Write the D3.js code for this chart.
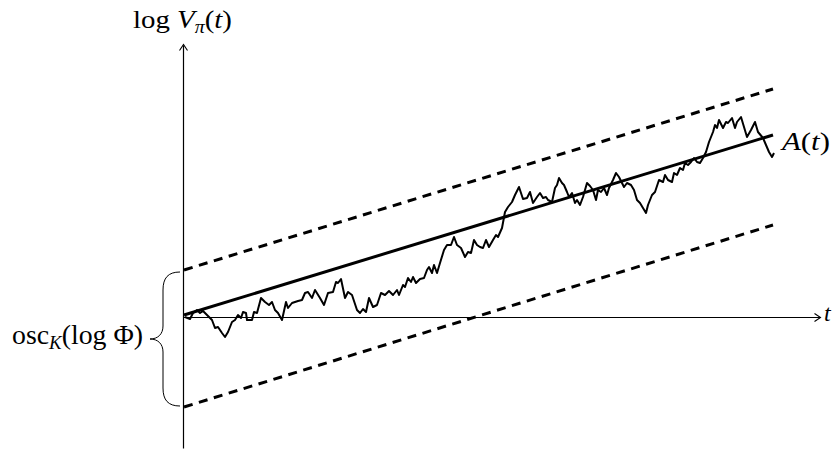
<!DOCTYPE html>
<html>
<head>
<meta charset="utf-8">
<script src="https://cdn.jsdelivr.net/npm/d3@7"></script>
<style>
  html, body { margin: 0; padding: 0; background: #fff; }
  text { font-family: "Liberation Serif", "DejaVu Serif", serif; fill: #000; }
</style>
</head>
<body>
<div id="chart"></div>
<script>
// random walk log V_pi(t)
var walkT = [0.01,0.06,0.09,0.13,0.16,0.19,0.23,0.28,0.31,0.34,0.38,0.41,0.44,0.48,0.51,0.54,0.57,0.59,0.62,0.63,
  0.68,0.70,0.73,0.77,0.81,0.85,0.88,0.91,0.94,0.98,1.02,1.04,1.08,1.11,1.14,1.18,1.21,1.24,1.28,1.31,
  1.36,1.40,1.44,1.49,1.52,1.54,1.57,1.61,1.64,1.68,1.73,1.76,1.79,1.82,1.85,1.89,1.93,1.97,2.01,2.05,
  2.09,2.13,2.15,2.19,2.21,2.24,2.27,2.29,2.32,2.36,2.40,2.43,2.45,2.48,2.50,2.53,2.56,2.60,2.63,2.67,
  2.70,2.73,2.77,2.81,2.84,2.87,2.90,2.93,2.96,2.99,3.02,3.05,3.09,3.12,3.14,3.18,3.21,3.24,3.28,3.31,
  3.35,3.39,3.43,3.46,3.49,3.53,3.56,3.59,3.62,3.64,3.68,3.71,3.73,3.75,3.78,3.80,3.83,3.85,3.88,3.91,
  3.93,3.96,3.99,4.03,4.06,4.09,4.12,4.14,4.17,4.20,4.23,4.25,4.29,4.32,4.35,4.38,4.40,4.43,4.47,4.50,
  4.53,4.56,4.59,4.62,4.64,4.68,4.71,4.75,4.79,4.81,4.84,4.88,4.90,4.93,4.96,4.99,5.01,5.04,5.07,5.10,
  5.13,5.16,5.19,5.22,5.25,5.29,5.31,5.33,5.35,5.39,5.42,5.44,5.48,5.51,5.53,5.57,5.60,5.63,5.67,5.71,
  5.74,5.79,5.82,5.85,5.88,5.90];
var walkV = [0,-0.02,0.04,0.07,0.04,0.06,0.02,-0.03,-0.11,-0.10,-0.16,-0.20,-0.15,-0.05,-0.03,0.02,-0.01,0.05,0.04,-0.03,
  -0.03,0.05,0.04,0.19,0.15,0.12,0.15,0.07,0.04,-0.03,0.15,0.09,0.14,0.15,0.16,0.17,0.24,0.25,0.19,0.27,
  0.19,0.12,0.24,0.25,0.35,0.34,0.38,0.19,0.25,0.22,0.07,0.04,0.08,0.05,0.19,0.10,0.12,0.24,0.22,0.26,
  0.22,0.27,0.22,0.32,0.30,0.39,0.35,0.40,0.34,0.38,0.39,0.47,0.50,0.44,0.52,0.44,0.54,0.67,0.72,0.72,
  0.80,0.72,0.69,0.60,0.65,0.64,0.77,0.72,0.70,0.69,0.77,0.70,0.77,0.82,0.80,0.89,1.05,1.10,1.15,1.22,
  1.30,1.18,1.19,1.25,1.14,1.20,1.24,1.19,1.20,1.17,1.15,1.29,1.32,1.39,1.34,1.32,1.25,1.20,1.24,1.14,
  1.17,1.12,1.20,1.34,1.31,1.27,1.17,1.27,1.25,1.29,1.22,1.29,1.37,1.44,1.40,1.34,1.30,1.34,1.32,1.27,
  1.17,1.14,1.09,1.04,1.12,1.22,1.25,1.37,1.35,1.42,1.37,1.35,1.44,1.42,1.49,1.47,1.54,1.52,1.55,1.59,
  1.55,1.54,1.59,1.65,1.75,1.85,1.92,1.89,1.97,1.89,1.95,1.94,1.99,1.89,1.95,2.00,1.90,1.80,1.87,1.95,
  1.85,1.79,1.72,1.65,1.60,1.64];

// trend A(t) and the band around it
var lineT = [0, 5.89];
var trendA = [0.02, 1.82];
var upperBand = [0.47, 2.28];
var lowerBand = [-0.90, 0.92];

var width = 836, height = 450;

const svg = d3.select("#chart")
  .append("svg")
    .attr("width", width)
    .attr("height", height);

const x = d3.scaleLinear().domain([-0.01, 6.36]).range([183, 820]);
const y = d3.scaleLinear().domain([-1.31, 2.72]).range([448, 45]);

// axes (no ticks)
svg.append("g")
  .attr("transform", `translate(0, ${y(0)})`)
  .call(d3.axisBottom(x).tickValues([]).tickSizeOuter(0))
  .select(".domain").attr("stroke-width", 1.2);
svg.append("g")
  .attr("transform", `translate(${x(-0.01)}, 0)`)
  .call(d3.axisLeft(y).tickValues([]).tickSizeOuter(0))
  .select(".domain").attr("stroke-width", 1.2);

// tikz style arrow tips
function arrowTip(px, py, angle) {
  svg.append("path")
    .attr("d", "M-6,-4 Q-1.5,-1 0,0 Q-1.5,1 -6,4")
    .attr("fill", "none")
    .attr("stroke", "#000")
    .attr("stroke-width", 1.1)
    .attr("transform", `translate(${px},${py}) rotate(${angle})`);
}
arrowTip(x(6.36) + 0.5, y(0) + 0.5, 0);
arrowTip(x(-0.01) + 0.5, y(2.72) - 0.5, -90);

const straight = d3.line()
  .x(function(d) { return x(d[0]); })
  .y(function(d) { return y(d[1]); });

// dashed band
[upperBand, lowerBand].forEach(function(b) {
  svg.append("path")
    .datum(d3.zip(lineT, b))
    .attr("fill", "none")
    .attr("stroke", "#000")
    .attr("stroke-width", 3)
    .attr("stroke-dasharray", "9,6.6")
    .attr("d", straight);
});

// trend line
svg.append("path")
  .datum(d3.zip(lineT, trendA))
  .attr("fill", "none")
  .attr("stroke", "#000")
  .attr("stroke-width", 3)
  .attr("d", straight);

// the walk
svg.append("path")
  .datum(d3.zip(walkT, walkV))
  .attr("fill", "none")
  .attr("stroke", "#000")
  .attr("stroke-width", 2)
  .attr("stroke-linejoin", "round")
  .attr("d", straight);

// brace on the left
var bTop = y(upperBand[0]) + 2, bBot = y(lowerBand[0]) - 1;
var bMid = (bTop + bBot) / 2;
var xe = 180, xs = 163, xt = 150;
svg.append("path")
  .attr("d", `M${xe},${bTop} C${xe-12},${bTop} ${xs},${bTop+6} ${xs},${bTop+18}` +
    ` L${xs},${bMid-13} C${xs},${bMid-5} ${xs-5},${bMid} ${xt},${bMid}` +
    ` C${xs-5},${bMid} ${xs},${bMid+5} ${xs},${bMid+13}` +
    ` L${xs},${bBot-18} C${xs},${bBot-6} ${xe-12},${bBot} ${xe},${bBot}`)
  .attr("fill", "none")
  .attr("stroke", "#000")
  .attr("stroke-width", 1);

// labels
var yl = svg.append("text")
  .attr("x", 133)
  .attr("y", 28)
  .attr("font-size", 26)
  .attr("textLength", 99)
  .attr("lengthAdjust", "spacingAndGlyphs");
yl.append("tspan").text("log ");
yl.append("tspan").attr("font-style", "italic").text("V");
yl.append("tspan").attr("font-style", "italic").attr("font-size", 18).attr("dy", 5).text("π");
yl.append("tspan").attr("dy", -5).text("(");
yl.append("tspan").attr("font-style", "italic").text("t");
yl.append("tspan").text(")");

svg.append("text")
  .attr("x", 824)
  .attr("y", 321)
  .attr("font-size", 24)
  .attr("font-style", "italic")
  .text("t");

var al = svg.append("text")
  .attr("x", 782)
  .attr("y", 150)
  .attr("font-size", 25)
  .attr("textLength", 48)
  .attr("lengthAdjust", "spacingAndGlyphs");
al.append("tspan").attr("font-style", "italic").text("A");
al.append("tspan").text("(");
al.append("tspan").attr("font-style", "italic").text("t");
al.append("tspan").text(")");

var ol = svg.append("text")
  .attr("x", 12)
  .attr("y", 344)
  .attr("font-size", 28)
  .attr("textLength", 131)
  .attr("lengthAdjust", "spacingAndGlyphs");
ol.append("tspan").text("osc");
ol.append("tspan").attr("font-style", "italic").attr("font-size", 19).attr("dy", 5).text("K");
ol.append("tspan").attr("dy", -5).text("(log Φ)");
</script>
</body>
</html>
